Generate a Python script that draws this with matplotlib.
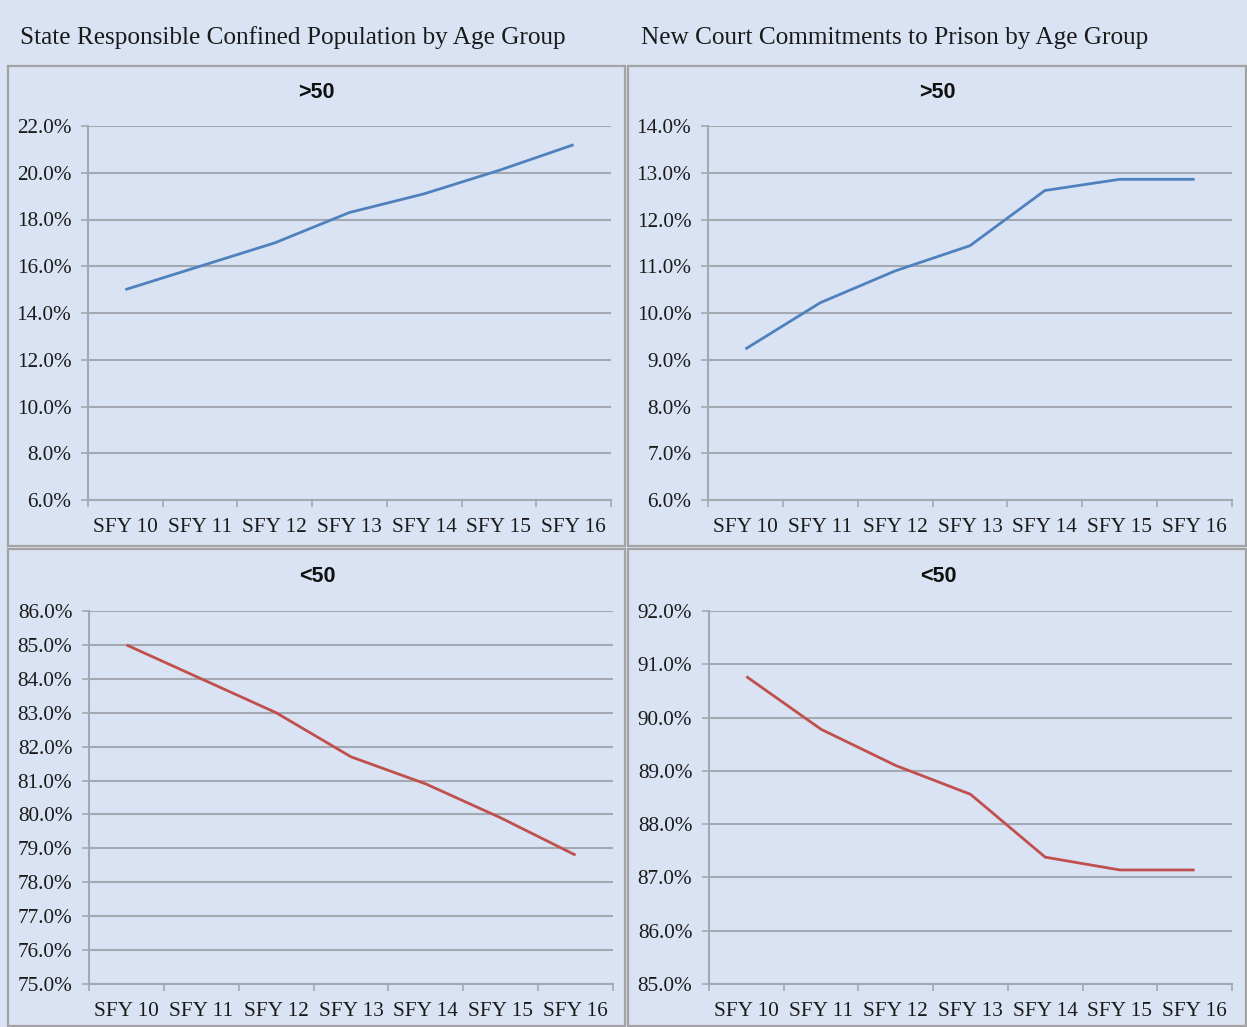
import matplotlib.pyplot as plt
import matplotlib.patches as patches
import numpy as np

# данные
years = ['SFY 10', 'SFY 11', 'SFY 12', 'SFY 13', 'SFY 14', 'SFY 15', 'SFY 16']

pop_over50 = [15.0, 16.0, 17.0, 18.3, 19.1, 20.1, 21.2]
pop_under50 = [85.0, 84.0, 83.0, 81.7, 80.9, 79.9, 78.8]

court_over50 = [9.23, 10.22, 10.9, 11.44, 12.62, 12.86, 12.86]
court_under50 = [90.77, 89.78, 89.1, 88.56, 87.38, 87.14, 87.14]

left_title = 'State Responsible Confined Population by Age Group'
right_title = 'New Court Commitments to Prison by Age Group'

bg = '#dae3f3'
grid_col = '#a4a8b0'
blue = '#4f81bd'
red = '#c0504d'

W, H = 1247, 1027
fig = plt.figure(figsize=(W / 100, H / 100), dpi=100)
fig.patch.set_facecolor(bg)


def px_rect(x0, y0, x1, y1):
    # пиксели -> доли фигуры
    return [x0 / W, 1 - y1 / H, (x1 - x0) / W, (y1 - y0) / H]


# рамки панелей
for x0, y0, x1, y1 in [(8, 66, 625, 546), (628, 66, 1246, 546),
                       (8, 549, 625, 1026), (628, 549, 1246, 1026)]:
    fig.patches.append(patches.Rectangle((x0 / W, 1 - y1 / H), (x1 - x0) / W, (y1 - y0) / H,
                                         transform=fig.transFigure, fill=False,
                                         edgecolor='#a3a3a3', linewidth=1.6))

fig.text(20 / W, 1 - 38 / H, left_title, family='Liberation Serif', fontsize=18.2,
         va='center', ha='left', color='#1a1a1a')
fig.text(641 / W, 1 - 38 / H, right_title, family='Liberation Serif', fontsize=18.2,
         va='center', ha='left', color='#1a1a1a')


def draw(rect, values, color, ymin, ymax, step, title, title_pos):
    ax = fig.add_axes(rect)
    ax.set_facecolor(bg)
    x = np.arange(len(years))
    ax.plot(x, values, color=color, linewidth=2.0, solid_capstyle='butt')
    ax.set_xlim(-0.5, len(years) - 0.5)
    ax.set_ylim(ymin, ymax)
    yt = np.arange(ymin, ymax + step / 2, step)
    ax.set_yticks(yt)
    ax.set_yticklabels(['%.1f%%' % v for v in yt], family='Liberation Serif', fontsize=15.3,
                       color='#1a1a1a')
    ax.set_xticks(x)
    ax.set_xticklabels(years, family='Liberation Serif', fontsize=15.3, color='#1a1a1a')
    ax.set_xticks(np.arange(-0.5, len(years)), minor=True)
    ax.tick_params(axis='x', which='major', length=0, pad=13)
    ax.tick_params(axis='x', which='minor', length=5, width=1.2, color=grid_col)
    ax.tick_params(axis='y', length=5, width=1.2, color=grid_col, pad=7)
    ax.grid(axis='y', color=grid_col, linewidth=1.5)
    ax.set_axisbelow(True)
    for s in ['top', 'right']:
        ax.spines[s].set_visible(False)
    for s in ['left', 'bottom']:
        ax.spines[s].set_color(grid_col)
        ax.spines[s].set_linewidth(1.5)
    fig.text(title_pos[0] / W, 1 - title_pos[1] / H, title, family='Liberation Sans',
             fontweight='bold', fontsize=15.5, ha='center', va='center', color='#111111')
    return ax


draw(px_rect(88, 126, 611, 500), pop_over50, blue, 6, 22, 2, '>50', (316, 92))
draw(px_rect(708, 126, 1232, 500), court_over50, blue, 6, 14, 1, '>50', (937, 92))
draw(px_rect(89, 611, 613, 984), pop_under50, red, 75, 86, 1, '<50', (317, 577))
draw(px_rect(709, 611, 1232, 984), court_under50, red, 85, 92, 1, '<50', (938, 577))

plt.savefig('out.png', dpi=100, facecolor=bg)
